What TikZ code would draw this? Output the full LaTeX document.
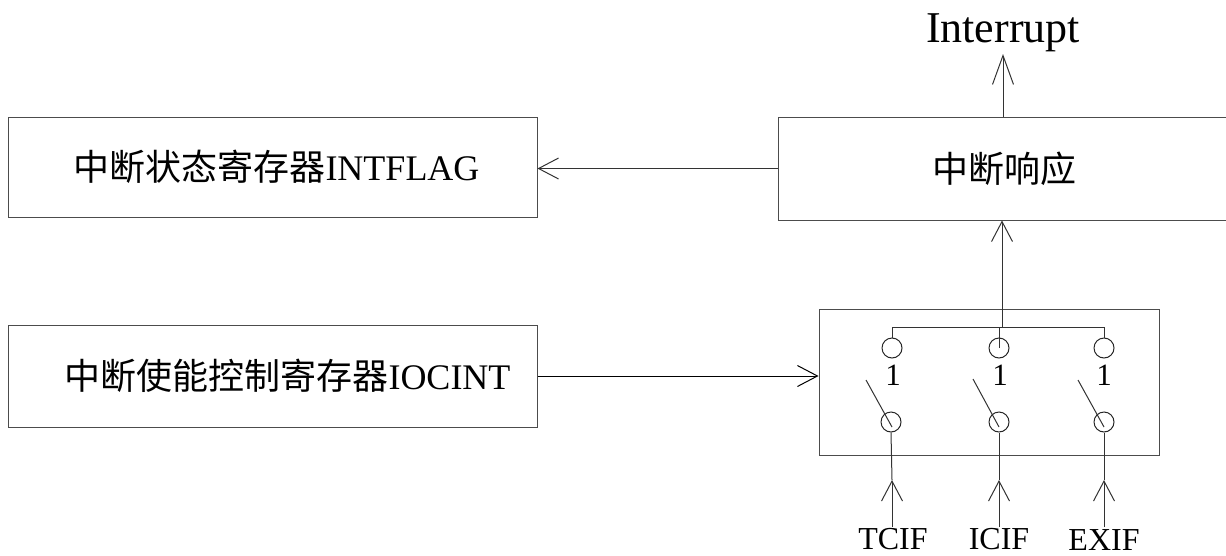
\documentclass[tikz,border=0pt]{standalone}
\usepackage{fontspec}
\setmainfont{Liberation Serif}
\newfontfamily\cjk{Noto Sans CJK SC}
\usetikzlibrary{arrows.meta}
\begin{document}
\begin{tikzpicture}[x=1pt,y=-1pt,
  box/.style={draw=black!70, line width=1pt, rectangle, inner sep=0pt},
  wire/.style={draw=black!80, line width=1pt},
  tipa/.style={-{Straight Barb[length=20pt,width=21pt,line width=1pt]}},
  tipb/.style={-{Straight Barb[length=29pt,width=21pt,line width=1pt]}},
  ring/.style={circle, draw=black!85, line width=1pt, minimum size=20pt, inner sep=0pt},
  lbl/.style={inner sep=0pt, anchor=base},
  big/.style={font=\fontsize{36}{40}\selectfont},
]
\useasboundingbox (0,0) rectangle (1226,555);
\clip (0,0) rectangle (1226,555);
% boxes
\node[box, big, minimum width=529pt, minimum height=100pt] (flag) at (272.5,167) {\hspace*{8pt}{\cjk 中断状态寄存器}INTFLAG};
\node[box, big, minimum width=529pt, minimum height=102pt] (enable) at (272.5,376) {\hspace*{30pt}{\cjk 中断使能控制寄存器}IOCINT};
\node[box, big, minimum width=452pt, minimum height=103pt] (resp) at (1004,168.5) {\cjk 中断响应};
\node[box, minimum width=340pt, minimum height=146pt] (sw) at (989,382) {};
% interrupt output
\node[lbl, font=\fontsize{44}{48}\selectfont] (int) at (1003,42) {Interrupt};
\coordinate (intTip) at (1003,54);
\draw[wire,tipb] (intTip |- resp.north) -- (intTip);
% resp -> flag
\draw[wire,tipa] (resp.west) -- (resp.west -| flag.east);
% enable -> switch box
\draw[wire,tipa,draw=black] (enable.east) -- (enable.east -| sw.west);
% bus
\coordinate (bus) at (1002,327);
\draw[wire,tipa] (bus) -- (bus |- resp.south);
\node[ring] (t1) at (892,348) {};
\node[ring] (t2) at (999,348) {};
\node[ring] (t3) at (1104,348) {};
\draw[wire] (t1.north) -- (t1.north |- bus) -- (t3.north |- bus) -- (t3.north);
\draw[wire] (t2.center) -- (t2.center |- bus);
% "1" labels
\node[lbl, font=\fontsize{31}{33}\selectfont] (o1) at (893,385) {1};
\node[lbl, font=\fontsize{31}{33}\selectfont] (o2) at (1000,385) {1};
\node[lbl, font=\fontsize{31}{33}\selectfont] (o3) at (1104,385) {1};
% bottom contacts
\node[ring] (b1) at (891,422) {};
\node[ring] (b2) at (999,422) {};
\node[ring] (b3) at (1104,422) {};
% blades
\coordinate (h1) at (866,380); \coordinate (e1) at (892,427);
\coordinate (h2) at (973,379); \coordinate (e2) at (999,427);
\coordinate (h3) at (1078,380); \coordinate (e3) at (1104,427);
\draw[wire] (h1) -- (e1);
\draw[wire] (h2) -- (e2);
\draw[wire] (h3) -- (e3);
% inputs
\coordinate (i1) at (892,527); \coordinate (a1) at (892,480);
\coordinate (i2) at (999,527); \coordinate (a2) at (999,480);
\coordinate (i3) at (1104,527); \coordinate (a3) at (1104,480);
\draw[wire,tipa] (i1) -- (a1); \draw[wire] (a1) -- (b1.south);
\draw[wire,tipa] (i2) -- (a2); \draw[wire] (a2) -- (b2.south);
\draw[wire,tipa] (i3) -- (a3); \draw[wire] (a3) -- (b3.south);
\node[lbl, font=\fontsize{32}{34}\selectfont] (l1) at (893,549) {TCIF};
\node[lbl, font=\fontsize{32}{34}\selectfont] (l2) at (999,549) {ICIF};
\node[lbl, font=\fontsize{32}{34}\selectfont] (l3) at (1104,550.5) {EXIF};
\end{tikzpicture}
\end{document}
